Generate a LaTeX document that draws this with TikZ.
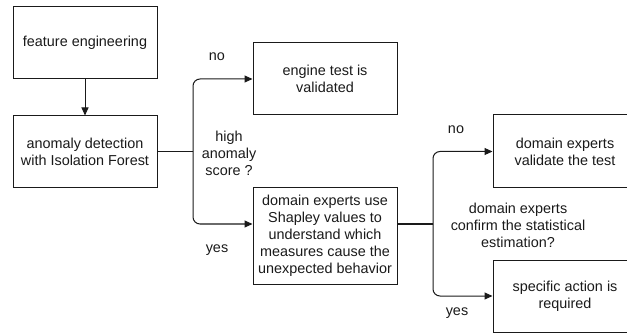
\documentclass[tikz,border=0pt]{standalone}
\usepackage{fontspec}
\setmainfont{Liberation Sans}
\usetikzlibrary{arrows.meta,calc}
\definecolor{ink}{HTML}{1A1A1A}
\begin{document}
\begin{tikzpicture}[x=1pt,y=-1pt,
  box/.style={draw=ink,line width=1pt,fill=white,minimum width=144pt,minimum height=72pt,
    inner sep=2pt,align=center,text=ink,font=\fontsize{14.4}{17.1}\selectfont},
  lbl/.style={align=center,text=ink,inner sep=0pt,font=\fontsize{14.4}{17.1}\selectfont},
  conn/.style={draw=ink,line width=1pt},
  arr/.style={conn,-{Triangle[length=8pt,width=7pt]}},
  rc/.style={rounded corners=7pt}]
\useasboundingbox (0,0) rectangle (627,334);
\clip (0,0) rectangle (627,334);
\node[box] (fe) at (85,43) {feature engineering};
\node[box] (ad) at (85,152) {anomaly detection\\with Isolation Forest};
\node[box] (eng) at (325,79) {engine test is\\validated};
\node[box,minimum height=96pt] (dom) at (325,236) {domain experts use\\Shapley values to\\understand which\\measures cause the\\unexpected behavior};
\node[box,minimum height=73pt] (val) at (565,151.5) {domain experts\\validate the test};
\node[box] (spa) at (565,296) {specific action is\\required};
\coordinate (j1) at (193,152);
\coordinate (domin) at ($(dom.west)+(0,-12)$);
\coordinate (domout) at ($(dom.east)+(0,-12)$);
\coordinate (j2) at (433,224);
\draw[arr] (fe) -- (ad);
\draw[conn] (ad.east) -- (j1);
\draw[arr,rc] (j1) |- (eng.west);
\draw[arr,rc] (j1) |- (domin);
\draw[conn] (domout) -- (j2);
\draw[arr,rc] (j2) |- (val.west);
\draw[arr,rc] (j2) |- (spa.west);
\node[lbl] (no1) at (217,57) {no};
\node[lbl] (q1) at (229,153) {high\\anomaly\\score ?};
\node[lbl] (yes1) at (217,250) {yes};
\node[lbl] (no2) at (456,130) {no};
\node[lbl] (q2) at (518,225) {domain experts\\confirm the statistical\\estimation?};
\node[lbl] (yes2) at (457,313) {yes};
\end{tikzpicture}
\end{document}
